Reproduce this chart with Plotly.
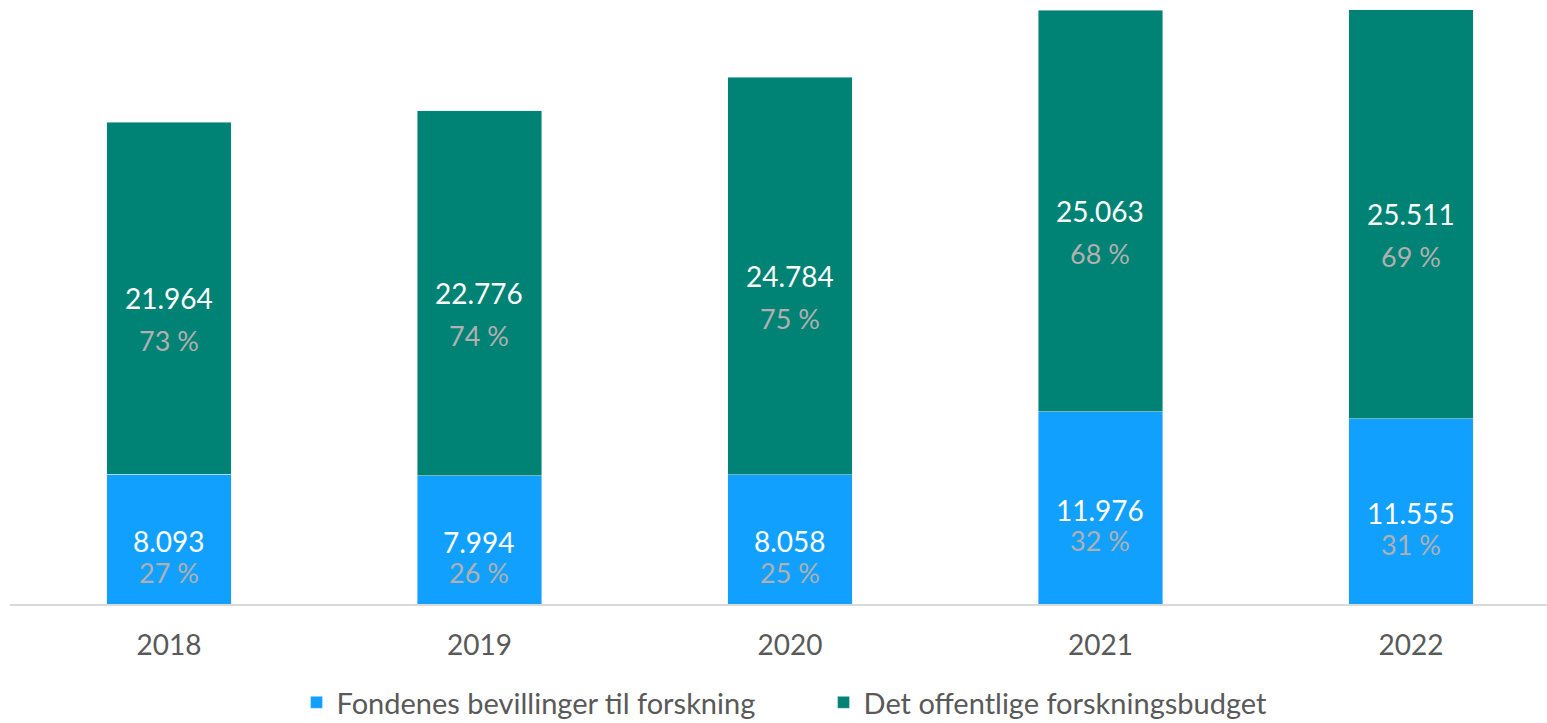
import plotly.graph_objects as go

years = ["2018", "2019", "2020", "2021", "2022"]
fonde = [8093, 7994, 8058, 11976, 11555]
offentlig = [21964, 22776, 24784, 25063, 25511]
fonde_pct = ["27 %", "26 %", "25 %", "32 %", "31 %"]
offentlig_pct = ["73 %", "74 %", "75 %", "68 %", "69 %"]
series_names = ["Fondenes bevillinger til forskning", "Det offentlige forskningsbudget"]

BLUE = "#12A0FF"
GREEN = "#008275"
PCT = "#B0B0B0"
FONT = "Lato"

def fmt(v):
    return f"{v:,}".replace(",", ".")

x = list(range(len(years)))
fig = go.Figure()
fig.add_trace(go.Bar(x=x, y=fonde, name=series_names[0], marker_color=BLUE, width=0.4))
fig.add_trace(go.Bar(x=x, y=offentlig, name=series_names[1], marker_color=GREEN, width=0.4))

annotations = []
for i in x:
    cb = fonde[i] / 2
    cg = fonde[i] + offentlig[i] / 2
    annotations.append(dict(x=i, y=cb, text=fmt(fonde[i]), showarrow=False,
                            font=dict(color="white", size=28, family=FONT), yshift=-2))
    annotations.append(dict(x=i, y=cb, text=fonde_pct[i], showarrow=False,
                            font=dict(color=PCT, size=27, family=FONT), yshift=-33))
    annotations.append(dict(x=i, y=cg, text=fmt(offentlig[i]), showarrow=False,
                            font=dict(color="white", size=28, family=FONT), yshift=0))
    annotations.append(dict(x=i, y=cg, text=offentlig_pct[i], showarrow=False,
                            font=dict(color=PCT, size=27, family=FONT), yshift=-42))

fig.update_layout(
    barmode="stack",
    width=1547, height=723,
    margin=dict(l=10, r=0, t=0, b=119, autoexpand=False),
    plot_bgcolor="white", paper_bgcolor="white",
    font=dict(family=FONT, color="#595959"),
    xaxis=dict(tickvals=x, ticktext=years, range=[-0.512, 4.438],
               showline=True, linecolor="#D9D9D9", linewidth=1.5,
               showgrid=False, zeroline=False, ticks="", ticklabelstandoff=16,
               tickfont=dict(size=28, color="#595959", family=FONT)),
    yaxis=dict(range=[0, 37665], visible=False, showgrid=False, zeroline=False),
    legend=dict(orientation="h", x=0.5293, xanchor="center", y=-0.2053, yanchor="bottom",
                traceorder="normal",
                font=dict(size=29, color="#595959", family=FONT), entrywidth=482,
                itemwidth=30),
    annotations=annotations,
    showlegend=True,
)

fig.write_html("out.html", config={"displayModeBar": False},
               post_script="document.body.style.margin='0';")
